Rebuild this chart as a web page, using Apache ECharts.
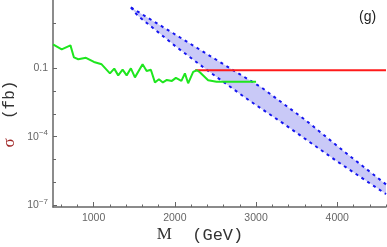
<!DOCTYPE html>
<html><head><meta charset="utf-8">
<script src="https://cdn.jsdelivr.net/npm/echarts@6/dist/echarts.min.js"></script>
<style>html,body{margin:0;padding:0;background:#fff}#c{width:387px;height:247px}</style>
</head><body><div id="c"></div>
<script>
// Green line (observed limit)
const greenM = [500,607,715,758,811,906,1004,1099,1201,1254,1303,1357,1407,1459,1509,1603,1653,1705,1755,1804,1853,1902,1964,2013,2081,2124,2164,2226,2271,2308,2410,2514,3000];
const greenS = [1.12,0.68,1.02,0.30,0.25,0.29,0.19,0.15,0.060,0.097,0.049,0.088,0.049,0.10,0.040,0.15,0.076,0.086,0.024,0.033,0.024,0.031,0.028,0.038,0.028,0.060,0.022,0.070,0.082,0.067,0.030,0.026,0.026];
// Red line
const redM = [2250,4600];
const redS = [0.082,0.082];
// Band boundaries
const upperM = [1460,2070,2720,3060,3610,4100,4600];
const upperS = [47,2.2,0.082,0.015,5.3e-4,2e-5,8e-7];
const lowerM = [1460,1540,2010,2400,2910,3330,4000,4600];
const lowerS = [47,21,0.92,0.082,4.0e-3,3.9e-4,8.1e-6,3e-7];
// Ticks
const xLabelVals = [1000,2000,3000,4000];
const xMinorVals = [600,800,1200,1400,1600,1800,2200,2400,2600,2800,3200,3400,3600,3800,4200,4400,4600];
const yLabelVals = [1e-7,1e-4,0.1];
const yMinorVals = [1e-6,1e-5,1e-3,1e-2,1,10];
const yLabelText = {'1e-7':'{b|10}{s|−7}','0.0001':'{b|10}{s|−4}','0.1':'{b|0.1}'};

const zip = (a,b)=>a.map((v,i)=>[v,b[i]]);
const chart = echarts.init(document.getElementById('c'), null, {renderer:'canvas'});
const axisCol = '#666';
const YMIN = Math.pow(10,-7.09), YMAX = 100;
const xCommon = {type:'value', min:500, max:4600, position:'bottom', splitLine:{show:false}};
const yCommon = {type:'log', logBase:10, min:YMIN, max:YMAX, position:'left', splitLine:{show:false}};
chart.setOption({
  animation:false,
  backgroundColor:'#fff',
  grid:{left:53, right:1, top:0, bottom:40},
  xAxis:[
    Object.assign({}, xCommon, {
      axisLine:{lineStyle:{color:axisCol, width:1.5}},
      axisTick:{inside:true, length:5, lineStyle:{color:axisCol}, customValues:xLabelVals},
      axisLabel:{customValues:xLabelVals, color:'#666', fontSize:10.5, fontFamily:'Liberation Sans', margin:6,
        formatter:(v)=>String(Math.round(v))}
    }),
    Object.assign({}, xCommon, {
      axisLine:{show:false},
      axisTick:{inside:true, length:2.5, lineStyle:{color:axisCol}, customValues:xMinorVals},
      axisLabel:{show:false}
    })
  ],
  yAxis:[
    Object.assign({}, yCommon, {
      axisLine:{lineStyle:{color:axisCol, width:1.5}},
      axisTick:{inside:true, length:4, lineStyle:{color:axisCol}, customValues:yLabelVals},
      axisLabel:{customValues:yLabelVals, margin:5,
        formatter:(v)=>{ const k = String(+v.toPrecision(3)); return yLabelText[k] || ''; },
        rich:{b:{color:'#666', fontSize:10.5, fontFamily:'Liberation Sans'},
              s:{color:'#666', fontSize:8, fontFamily:'Liberation Sans', verticalAlign:'top', padding:[0,0,7,0]}}}
    }),
    Object.assign({}, yCommon, {
      axisLine:{show:false},
      axisTick:{inside:true, length:3, lineStyle:{color:axisCol}, customValues:yMinorVals},
      axisLabel:{show:false}
    })
  ],
  series:[
    {type:'custom', xAxisIndex:0, yAxisIndex:0, silent:true, z:1,
     data:[[upperM[0], upperS[0]]],
     renderItem:(params, api)=>{
       const pts = zip(upperM, upperS).map(p=>api.coord(p))
         .concat(zip(lowerM, lowerS).reverse().map(p=>api.coord(p)));
       return {type:'polygon', shape:{points:pts}, style:{fill:'#c9c9f7'}};
     }},
    {type:'line', data:zip(upperM, upperS), symbol:'none', z:2,
     lineStyle:{color:'#1515f0', width:2, type:[3,4]}},
    {type:'line', data:zip(lowerM, lowerS), symbol:'none', z:2,
     lineStyle:{color:'#1515f0', width:2, type:[3,4]}},
    {type:'line', data:zip(redM, redS), symbol:'none', z:3,
     lineStyle:{color:'#ff1a1a', width:2}},
    {type:'line', data:zip(greenM, greenS), symbol:'none', z:4,
     lineStyle:{color:'#1ee61e', width:2}}
  ],
  graphic:[
    {type:'text', left:359, top:10, style:{text:'(g)', fill:'#222', font:'14px "Liberation Sans"'}},
    {type:'text', x:200, y:235, style:{text:'{m|M}{g|  (GeV)}', align:'center', verticalAlign:'middle',
      rich:{m:{font:'17px "Liberation Serif"', fill:'#333'}, g:{font:'17px "Liberation Mono"', fill:'#333'}}}},
    {type:'text', x:10, y:114, rotation:Math.PI/2, style:{text:'{s|σ}{g|  (fb)}', align:'center', verticalAlign:'middle',
      rich:{s:{font:'17px "Liberation Serif"', fill:'#a02828'}, g:{font:'16px "Liberation Mono"', fill:'#333'}}}}
  ]
});
</script></body></html>
